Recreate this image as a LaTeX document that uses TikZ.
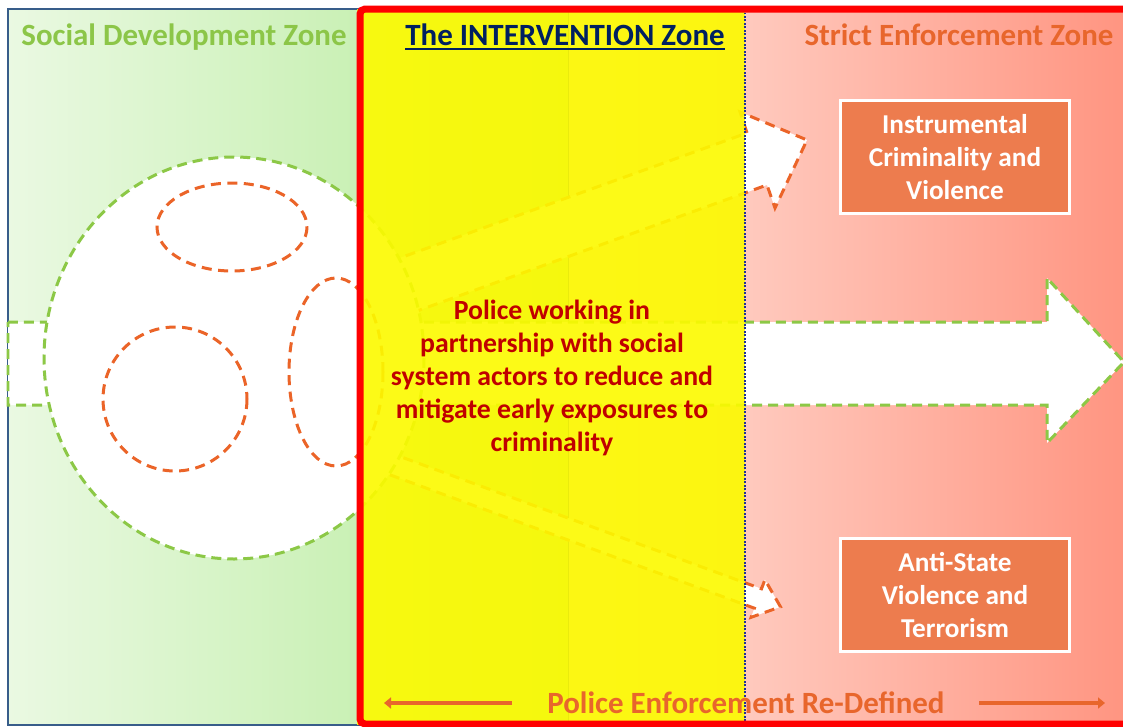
\documentclass[tikz,border=0pt]{standalone}
\usepackage{fontspec}
\setmainfont{Carlito}
\usetikzlibrary{arrows.meta}
\definecolor{greenL}{RGB}{234,249,226}
\definecolor{greenR}{RGB}{182,235,154}
\definecolor{pinkL}{RGB}{255,226,218}
\definecolor{pinkR}{RGB}{255,148,128}
\definecolor{panelblue}{RGB}{56,93,138}
\definecolor{yellowov}{RGB}{252,250,0}
\definecolor{dashgreen}{RGB}{140,200,70}
\definecolor{dashorange}{RGB}{235,100,40}
\definecolor{titlegreen}{RGB}{140,198,72}
\definecolor{titlenavy}{RGB}{0,32,96}
\definecolor{titleorange}{RGB}{232,102,44}
\definecolor{darkred}{RGB}{192,0,0}
\definecolor{boxorange}{RGB}{237,124,78}
\definecolor{dotnavy}{RGB}{30,50,150}
\begin{document}
\begin{tikzpicture}[x=0.02cm,y=-0.02cm,
  greendash/.style={draw=dashgreen,line width=0.6mm,dash pattern=on 2mm off 1.2mm,fill=white},
  orangedash/.style={draw=dashorange,line width=0.6mm,dash pattern=on 2mm off 1.3mm},
  zonetitle/.style={font=\fontsize{17.6}{21}\selectfont\bfseries,inner sep=0pt,anchor=base},
  boxnode/.style={draw=white,line width=0.6mm,fill=boxorange,text=white,align=center,
    minimum width=4.6cm,minimum height=2.28cm,inner sep=0pt,
    font=\fontsize{15.5}{18.8}\selectfont\bfseries},
  bodytext/.style={text=darkred,align=center,inner sep=0pt,
    font=\fontsize{15.8}{18.9}\selectfont\bfseries},
  pearrow/.style={draw=titleorange,line width=0.9mm,-{Triangle[length=1.4mm,width=2.2mm]}}
]
\useasboundingbox (0,0) rectangle (1123,727);
\begin{scope}
\clip (0,0) rectangle (1123,727);
\fill[white] (0,0) rectangle (1123,727);
% zone panels
\shade[left color=greenL,right color=greenR] (8,9) rectangle (569,725);
\draw[panelblue,line width=0.4mm] (8,9) rectangle (569,725);
\shade[left color=pinkL,right color=pinkR] (569,9) rectangle (1130,725);
% big arrow
\draw[greendash] (8,322) -- (1047,322) -- (1047,278) -- (1124,362) -- (1047,443) -- (1047,405) -- (8,405) -- cycle;
% small arrows
\draw[orangedash,fill=white] (297,295) -- (747,133) -- (740,112) -- (807,140) -- (775,208) -- (767,185) -- (317,347) -- cycle;
\draw[orangedash,fill=white] (341.5,435.1) -- (761.5,588.8) -- (764.9,579.7) -- (780.5,606.8) -- (751.1,617.3) -- (754.4,608.2) -- (334.4,454.5) -- cycle;
% big circle
\draw[greendash] (234,358) ellipse [x radius=190, y radius=201];
% inner dashed ellipses
\draw[orangedash] (232,227) ellipse [x radius=75, y radius=44];
\draw[orangedash] (175,399) ellipse [x radius=72, y radius=72];
\draw[orangedash] (336,372) ellipse [x radius=47, y radius=94];
% intervention overlay
\fill[yellowov,opacity=0.91] (357,9) rectangle (745,725);
\draw[dotnavy,line width=0.35mm,dash pattern=on 0.35mm off 0.35mm] (745,9) -- (745,725);
% red frame
\draw[red,line width=1.4mm,rounded corners=1mm] (360,9) rectangle (1140,724);
\end{scope}
% titles
\node[zonetitle,text=titlegreen] (tsocial) at (184,45) {Social Development Zone};
\node[zonetitle,text=titlenavy] (tinter) at (565,45) {The INTERVENTION Zone};
\draw[titlenavy,line width=0.4mm] ([yshift=-2.2pt]tinter.base west) -- ([yshift=-2.2pt]tinter.base east);
\node[zonetitle,text=titleorange] (tstrict) at (959,45) {Strict Enforcement Zone};
% centre text
\node[bodytext] (police) at (552,378) {Police working in\\partnership with social\\system actors to reduce and\\mitigate early exposures to\\criminality};
% boxes
\node[boxnode] (instr) at (955,157) {Instrumental\\Criminality and\\Violence};
\node[boxnode] (anti) at (955,595) {Anti-State\\Violence and\\Terrorism};
% bottom label
\node[zonetitle,text=titleorange] (pe) at (746,713) {Police Enforcement Re-Defined};
\coordinate (peL1) at (512,703);
\coordinate (peL2) at (384,703);
\coordinate (peR1) at (979,703);
\coordinate (peR2) at (1105,703);
\draw[pearrow] (peL1) -- (peL2);
\draw[pearrow] (peR1) -- (peR2);
\end{tikzpicture}
\end{document}
